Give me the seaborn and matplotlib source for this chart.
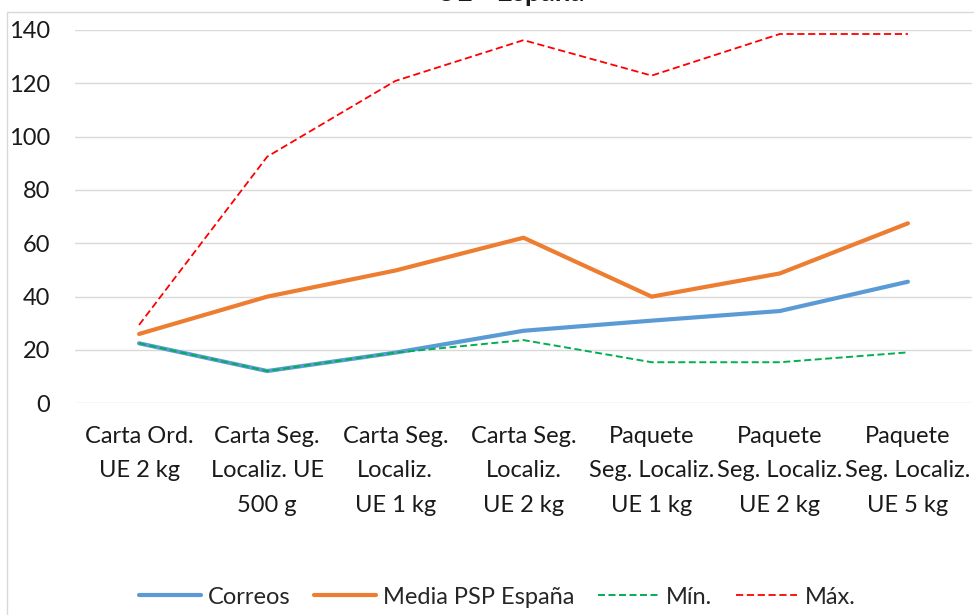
import matplotlib
matplotlib.use("Agg")
import matplotlib.pyplot as plt
import numpy as np
import pandas as pd
import seaborn as sns
from matplotlib.lines import Line2D

categories = [
    "Carta Ord.\nUE 2 kg",
    "Carta Seg.\nLocaliz. UE\n500 g",
    "Carta Seg.\nLocaliz.\nUE 1 kg",
    "Carta Seg.\nLocaliz.\nUE 2 kg",
    "Paquete\nSeg. Localiz.\nUE 1 kg",
    "Paquete\nSeg. Localiz.\nUE 2 kg",
    "Paquete\nSeg. Localiz.\nUE 5 kg",
]
correos = [22.5, 12.1, 19.0, 27.2, 31.0, 34.6, 45.6]
media_psp = [26.0, 40.0, 49.8, 62.1, 40.0, 48.7, 67.5]
minimo = [22.5, 12.1, 19.0, 23.7, 15.4, 15.4, 19.1]
maximo = [29.4, 92.5, 120.9, 136.2, 122.9, 138.5, 138.5]
y_ticks = [0, 20, 40, 60, 80, 100, 120, 140]

series = [
    ("Correos", correos, "#5B9BD5", 3.0, "-"),
    ("Media PSP España", media_psp, "#ED7D31", 3.0, "-"),
    ("Mín.", minimo, "#00B050", 1.4, (0, (3.6, 1.8))),
    ("Máx.", maximo, "#FF0000", 1.3, (0, (4, 2))),
]

sns.set_theme(style="white")
plt.rcParams["font.family"] = ["Lato", "DejaVu Sans"]

fig = plt.figure(figsize=(9.79, 6.15), dpi=100)
ax = fig.add_axes([75 / 979, 1 - 403.3 / 615, 897 / 979, 373.3 / 615])

x = np.arange(len(categories))
handles = []
for name, vals, color, lw, ls in series:
    df = pd.DataFrame({"x": x, "y": vals})
    sns.lineplot(data=df, x="x", y="y", ax=ax, color=color, linewidth=lw,
                 linestyle=ls, solid_capstyle="round", dash_capstyle="butt")
    handles.append(Line2D([0], [0], color=color, linewidth=lw, linestyle=ls,
                          solid_capstyle="round"))

ax.set_xlim(-0.5, len(categories) - 0.5)
ax.set_ylim(0, 140)
ax.set_yticks(y_ticks)
ax.set_xticks(x)
ax.set_xticklabels(categories, fontsize=17, linespacing=1.8, color="#1a1a1a")
ax.tick_params(axis="y", labelsize=17, pad=18, colors="#1a1a1a", length=0)
ax.tick_params(axis="x", pad=16, length=0)
ax.set_xlabel("")
ax.set_ylabel("")
ax.grid(axis="y", color="#D9D9D9", linewidth=1.0)
ax.set_axisbelow(True)
for s in ax.spines.values():
    s.set_visible(False)

# chart border and the title, which is cut off at the top as in the source
fig.add_artist(Line2D([7 / 979, 973 / 979], [1 - 12 / 615] * 2, color="#D9D9D9", linewidth=1.0))
fig.add_artist(Line2D([7 / 979, 7 / 979], [0, 1 - 12 / 615], color="#D9D9D9", linewidth=1.0))
fig.text(510 / 979, 1 - 1 / 615, "UE - España", ha="center", va="baseline",
         fontsize=20, fontweight="bold", color="#1a1a1a")

fig.legend(handles, [s[0] for s in series], loc="center", bbox_to_anchor=(0.508, 1 - 597 / 615),
           ncol=4, frameon=False, fontsize=17, handlelength=2.6, handletextpad=0.3,
           columnspacing=1.0)

fig.savefig("out.png", dpi=100, facecolor="white")
